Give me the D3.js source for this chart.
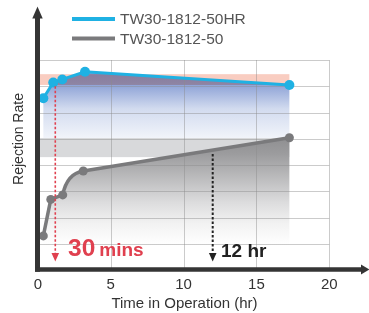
<!DOCTYPE html>
<html><head><meta charset="utf-8">
<script src="https://cdn.jsdelivr.net/npm/d3@7"></script>
<style>html,body{margin:0;padding:0;background:#fff;}svg{display:block;}</style>
</head><body>
<svg id="c" width="369" height="313"></svg>
<script>
// ---- data ----
const seriesNames = ["TW30-1812-50HR", "TW30-1812-50"];
const timeHR = [0.38, 1.06, 1.68, 3.24, 17.26];
const rejHR  = [6.54, 7.14, 7.26, 7.55, 7.05];
const time50 = [0.38, 0.89, 1.71, 3.12, 17.26];
const rej50  = [1.30, 2.69, 2.86, 3.77, 5.04];
const xTicks = [0, 5, 10, 15, 20];
const yGrid  = [1, 2, 3, 4, 5, 6, 7, 8];
const pinkBand = [7.05, 7.46];
const grayBand = [4.30, 5.03];
const blueAreaBase = 5.03;
const grayAreaBase = 0.95;
const marker30 = 1.2, marker12 = 12;
const label30 = ["30", "mins"], label12 = "12 hr";
const xTitle = "Time in Operation (hr)", yTitle = "Rejection Rate";

// ---- scales ----
const x = d3.scaleLinear().domain([0, 20]).range([37.8, 329.3]);
const y = d3.scaleLinear().domain([0, 8]).range([270, 60]);
const svg = d3.select("#c");
const font = "'Liberation Sans', Arial, Helvetica, sans-serif";
const defs = svg.append("defs");

const gb = defs.append("linearGradient").attr("id","gBlue").attr("gradientUnits","userSpaceOnUse")
  .attr("x1",0).attr("x2",0).attr("y1",y(7.5)).attr("y2",y(blueAreaBase));
[[0,"#8a9bd2"],[0.2,"#92a6d8"],[0.55,"#d2dbef"],[1,"#f1f4fa"]].forEach(s=>gb.append("stop").attr("offset",s[0]).attr("stop-color",s[1]));
const gg = defs.append("linearGradient").attr("id","gGray").attr("gradientUnits","userSpaceOnUse")
  .attr("x1",0).attr("x2",0).attr("y1",y(grayBand[1])).attr("y2",y(grayAreaBase));
[[0,"#8f8f91"],[0.15,"#9c9c9e"],[0.6,"#dcdcdd"],[0.8,"#f2f2f2"],[1,"#ffffff"]].forEach(s=>gg.append("stop").attr("offset",s[0]).attr("stop-color",s[1]));

const hr = timeHR.map((t,i)=>[t, rejHR[i]]);
const g50 = time50.map((t,i)=>[t, rej50[i]]);
const xEnd = timeHR[timeHR.length-1];

// gray line path: straight segments, with a rounded bend between 3rd and 4th points
const P = g50.map(d=>[x(d[0]), y(d[1])]);
const slopeEnd = (P[4][1]-P[3][1])/(P[4][0]-P[3][0]);
const gp = d3.path();
gp.moveTo(P[0][0], P[0][1]);
gp.lineTo(P[1][0], P[1][1]);
gp.lineTo(P[2][0], P[2][1]);
gp.bezierCurveTo(P[2][0]+3, P[2][1]-15, P[3][0]-11, P[3][1]-11*slopeEnd, P[3][0], P[3][1]);
gp.lineTo(P[4][0], P[4][1]);
const grayLineD = gp.toString();
const grayAreaD = grayLineD + `L${P[4][0]},${y(grayAreaBase)}L${P[0][0]},${y(grayAreaBase)}Z`;

// light gray band
svg.append("rect").attr("x", x(0)).attr("width", x(xEnd)-x(0))
  .attr("y", y(grayBand[1])).attr("height", y(grayBand[0])-y(grayBand[1])).attr("fill","#d8d9db");
// gray gradient area under gray line
svg.append("path").attr("d", grayAreaD).attr("fill","url(#gGray)");
// blue area
svg.append("path").datum(hr)
  .attr("d", d3.area().x(d=>x(d[0])).y0(y(blueAreaBase)).y1(d=>y(d[1])))
  .attr("fill","url(#gBlue)");
// pink band
svg.append("rect").attr("x", x(0)).attr("width", x(xEnd)-x(0))
  .attr("y", y(pinkBand[1])).attr("height", y(pinkBand[0])-y(pinkBand[1]))
  .attr("fill","#f9cdc1").style("mix-blend-mode","multiply");

// grid
const grid = svg.append("g").attr("stroke","rgba(140,140,140,0.45)").attr("stroke-width",1);
yGrid.forEach(v=>grid.append("line").attr("x1",x(0)).attr("x2",x(20)).attr("y1",Math.round(y(v))+0.5).attr("y2",Math.round(y(v))+0.5));
xTicks.slice(1).forEach(v=>grid.append("line").attr("x1",Math.round(x(v))+0.5).attr("x2",Math.round(x(v))+0.5).attr("y1",y(8)).attr("y2",y(0)));

// lines
svg.append("path").attr("d", grayLineD)
  .attr("fill","none").attr("stroke","#7a7a7c").attr("stroke-width",3.5).attr("stroke-linejoin","round");
svg.selectAll(".d50").data(g50).enter().append("circle")
  .attr("cx",d=>x(d[0])).attr("cy",d=>y(d[1])).attr("r",4.5).attr("fill","#7a7a7c");
svg.append("path").datum(hr)
  .attr("d", d3.line().x(d=>x(d[0])).y(d=>y(d[1])))
  .attr("fill","none").attr("stroke","#1fb1e3").attr("stroke-width",3);
svg.selectAll(".dhr").data(hr).enter().append("circle")
  .attr("cx",d=>x(d[0])).attr("cy",d=>y(d[1])).attr("r",5).attr("fill","#1fb1e3");

// markers
function marker(xv, yTop, color, w){
  const xp = x(xv);
  svg.append("line").attr("x1",xp).attr("x2",xp).attr("y1",yTop).attr("y2",254)
    .attr("stroke",color).attr("stroke-width",w).attr("stroke-dasharray","2.5,2");
  svg.append("path").attr("d",`M${xp-3.8},${253}L${xp+3.8},${253}L${xp},${261.5}Z`).attr("fill",color);
}
marker(marker30, y(7.0), "#e0404f", 1.6);
const y12 = d3.scaleLinear().domain([time50[3], time50[4]]).range([rej50[3], rej50[4]])(marker12);
marker(marker12, y(y12)+4, "#222", 2);

const t30 = svg.append("text").attr("x",68).attr("y",256).attr("fill","#e0404f")
  .attr("font-family",font).attr("font-weight","bold");
t30.append("tspan").attr("font-size",24.5).text(label30[0]);
t30.append("tspan").attr("font-size",19).attr("dx",4).text(label30[1]);
svg.append("text").attr("x",221).attr("y",257).attr("fill","#222").attr("font-family",font)
  .attr("font-weight","bold").attr("font-size",19).text(label12);

// axes
const ax = "#353535";
svg.append("line").attr("x1",37.5).attr("x2",37.5).attr("y1",271.7).attr("y2",17).attr("stroke",ax).attr("stroke-width",5);
svg.append("path").attr("d","M32.3,18.5L42.7,18.5L37.5,6.5Z").attr("fill",ax);
svg.append("line").attr("x1",35).attr("x2",362).attr("y1",269.5).attr("y2",269.5).attr("stroke",ax).attr("stroke-width",4.5);
svg.append("path").attr("d","M361,264.5L361,274.5L369.5,269.5Z").attr("fill",ax);

// tick labels
svg.selectAll(".xt").data(xTicks).enter().append("text")
  .attr("x",d=>x(d)).attr("y",289).attr("text-anchor","middle")
  .attr("font-family",font).attr("font-size",15).attr("fill","#333").text(d=>d);
svg.append("text").attr("x",184.5).attr("y",308).attr("text-anchor","middle")
  .attr("font-family",font).attr("font-size",15).attr("fill","#333").text(xTitle);
svg.append("text").attr("transform","translate(22.5,139) rotate(-90)").attr("text-anchor","middle")
  .attr("font-family",font).attr("font-size",14).attr("fill","#333").text(yTitle);

// legend
const leg = [{c:"#1fb1e3", y:19}, {c:"#7a7a7c", y:38.5}];
leg.forEach((l,i)=>{
  svg.append("line").attr("x1",72).attr("x2",115).attr("y1",l.y).attr("y2",l.y).attr("stroke",l.c).attr("stroke-width",4);
  svg.append("text").attr("x",120).attr("y",l.y+5.3).attr("font-family",font).attr("font-size",15.5)
    .attr("fill","#555").text(seriesNames[i]);
});
</script>
</body></html>
